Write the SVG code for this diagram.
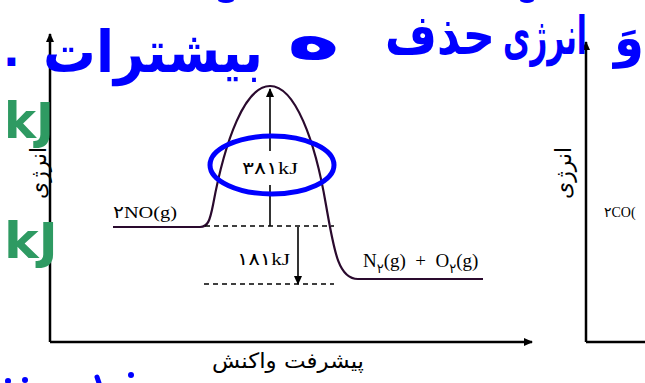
<svg xmlns="http://www.w3.org/2000/svg" width="645" height="383" viewBox="0 0 645 383">
<style>
.ax{stroke:#000;stroke-width:2.5;fill:none}
.ln{stroke:#000;stroke-width:1.6;fill:none}
.ds{stroke:#000;stroke-width:1.5;stroke-dasharray:5 4;fill:none}
.cv{stroke:#2a0a2e;stroke-width:2.2;fill:none}
.lb{font-family:"Liberation Serif","DejaVu Serif","DejaVu Sans",serif;fill:#000}
.fa{font-family:"DejaVu Sans",sans-serif;fill:#000}
.hw{font-family:"DejaVu Sans",sans-serif;fill:#0000ff;font-weight:bold}
.gr{font-family:"DejaVu Sans",sans-serif;fill:#2e9a62;font-weight:bold}
</style>
<defs>
<marker id="ah" markerWidth="10" markerHeight="10" refX="8" refY="4" orient="auto" markerUnits="userSpaceOnUse">
<path d="M0,0 L9,4 L0,8 Z" fill="#000"/>
</marker>
</defs>
<rect width="645" height="383" fill="#fff"/>
<g id="axes">
<line class="ax" x1="50" y1="342" x2="50" y2="34" marker-end="url(#ah)"/>
<line class="ax" x1="50" y1="342" x2="532" y2="342" marker-end="url(#ah)"/>
<line class="ax" x1="586" y1="342" x2="586" y2="42" marker-end="url(#ah)"/>
<line class="ax" x1="586" y1="342" x2="645" y2="342"/>
</g>
<g id="curve">
<path class="cv" d="M113,227 L200,227 C208,227 210,220 213,205 C225,140 245,86 270,86 C295,86 315,140 326,205 C334,250 338,279 358,279 L483,279"/>
</g>
<g id="connectors">
<line class="ds" x1="205" y1="226" x2="334" y2="226"/>
<line class="ds" x1="204" y1="284" x2="334" y2="284"/>
<line class="ln" x1="270" y1="226" x2="270" y2="185"/>
<line class="ln" x1="270" y1="151" x2="270" y2="89" marker-end="url(#ah)"/>
<line class="ln" x1="298" y1="227" x2="298" y2="284" marker-end="url(#ah)"/>
</g>
<g id="labels">
<text class="lb" x="113" y="218" font-size="17" textLength="64" lengthAdjust="spacingAndGlyphs">۲NO(g)</text>
<text class="lb" x="242" y="174" font-size="17" textLength="56" lengthAdjust="spacingAndGlyphs">۳۸۱kJ</text>
<text class="lb" x="237" y="265" font-size="17" textLength="53" lengthAdjust="spacingAndGlyphs">۱۸۱kJ</text>
<text class="lb" x="363" y="267" font-size="19" xml:space="preserve">N<tspan dy="6" font-size="13">۲</tspan><tspan dy="-6">(g)  +  O</tspan><tspan dy="6" font-size="13">۲</tspan><tspan dy="-6">(g)</tspan></text>
<text class="fa" x="212" y="368" font-size="21" textLength="152" lengthAdjust="spacingAndGlyphs">پیشرفت واکنش</text>
<text class="fa" font-size="23" text-anchor="middle" textLength="52" lengthAdjust="spacingAndGlyphs" transform="translate(46,173) rotate(-90)">انرژی</text>
<text class="fa" font-size="23" text-anchor="middle" textLength="52" lengthAdjust="spacingAndGlyphs" transform="translate(571,173) rotate(-90)">انرژی</text>
<text class="lb" x="604" y="217" font-size="14">۲CO(</text>
</g>
<g id="annotations">
<ellipse cx="272" cy="165" rx="62" ry="29" fill="none" stroke="#0000ff" stroke-width="5"/>
<text class="hw" x="43" y="72" font-size="58" textLength="220" lengthAdjust="spacingAndGlyphs">بیشترات</text>
<text class="hw" x="3" y="66" font-size="44">.</text>
<text class="hw" x="287" y="58" font-size="62" textLength="53" lengthAdjust="spacingAndGlyphs">ه</text>
<text class="hw" font-size="48" textLength="110" lengthAdjust="spacingAndGlyphs" transform="translate(385,54) scale(1,1.15)">حذف</text>
<text class="hw" font-size="36" textLength="84" lengthAdjust="spacingAndGlyphs" transform="translate(503,54) scale(1,1.45)">انرژی</text>
<text class="hw" font-size="44" textLength="30" lengthAdjust="spacingAndGlyphs" transform="translate(614,56) scale(1,1.2)">وَ</text>
<ellipse cx="226" cy="0" rx="8" ry="3" fill="#0000ff"/>
<ellipse cx="527" cy="0" rx="7" ry="3" fill="#0000ff"/>
<circle cx="8" cy="381" r="3" fill="#0000ff"/>
<circle cx="25" cy="380" r="3" fill="#0000ff"/>
<path d="M97,377 L99,383" stroke="#0000ff" stroke-width="5" stroke-linecap="round"/>
<circle cx="131" cy="375" r="3" fill="#0000ff"/>
<text class="gr" x="4" y="138" font-size="50" textLength="50" lengthAdjust="spacingAndGlyphs">kJ</text>
<text class="gr" x="4" y="258" font-size="50" textLength="54" lengthAdjust="spacingAndGlyphs">kJ</text>
</g>
</svg>
